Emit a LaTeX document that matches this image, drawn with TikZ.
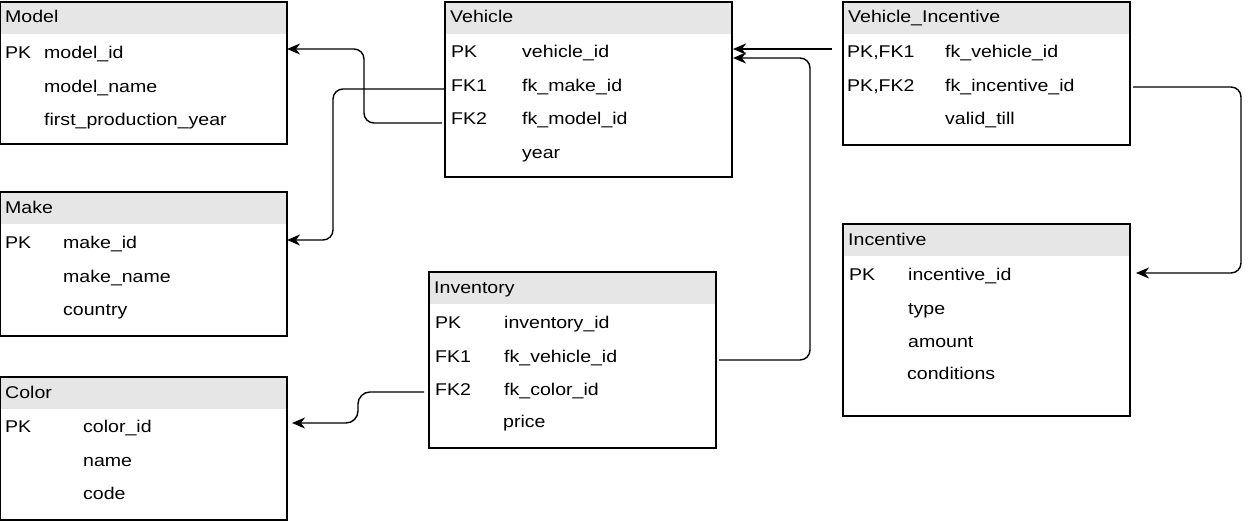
\documentclass[tikz,border=0pt]{standalone}
\usepackage{fontspec}
\setmainfont{Liberation Sans}[FakeStretch=1.15]
\usetikzlibrary{arrows.meta,calc}
\definecolor{headgray}{RGB}{230,230,230}
\newcommand\ertable[5]{%
  \node[head] (#1-head) at (#2,#3) {};
  \node[box, minimum height=#4pt] (#1) at (#2,#3) {};
  \node[txt] (#1-title) at ($(#1.north west)+(5,21)$) {#5};
}
\begin{document}
\begin{tikzpicture}[x=1pt,y=-1pt,
  box/.style={draw=black, line width=1.3pt, minimum width=287pt, anchor=north west, inner sep=0pt, outer sep=0pt},
  head/.style={fill=headgray, anchor=north west, minimum width=287pt, minimum height=32pt, inner sep=0pt, outer sep=0pt},
  txt/.style={anchor=base west, inner sep=0pt, font=\fontsize{17}{18}\selectfont},
  conn/.style={line width=1.4pt, rounded corners=10pt},
  tip/.style={-{Stealth[length=13pt,width=11pt,inset=4pt]}}]
\useasboundingbox (0,0) rectangle (1248,522);

% Tables
\ertable{model}{0}{2}{142}{Model}
\ertable{make}{0}{192}{144}{Make}
\ertable{color}{0}{377}{143}{Color}
\ertable{vehicle}{445}{2}{175}{Vehicle}
\ertable{inventory}{429}{272}{176}{Inventory}
\ertable{vi}{843}{2}{143}{Vehicle\_Incentive}
\ertable{incentive}{843}{224}{192}{Incentive}

% Model rows
\node[txt] (model-k1) at ($(model.north west)+(5,56)$) {PK};
\node[txt] (model-f1) at ($(model.north west)+(44,56)$) {model\_id};
\node[txt] (model-f2) at ($(model.north west)+(44,90)$) {model\_name};
\node[txt] (model-f3) at ($(model.north west)+(44,123)$) {first\_production\_year};

% Make rows
\node[txt] (make-k1) at ($(make.north west)+(5,56)$) {PK};
\node[txt] (make-f1) at ($(make.north west)+(63,56)$) {make\_id};
\node[txt] (make-f2) at ($(make.north west)+(63,90)$) {make\_name};
\node[txt] (make-f3) at ($(make.north west)+(63,123)$) {country};

% Color rows
\node[txt] (color-k1) at ($(color.north west)+(5,55)$) {PK};
\node[txt] (color-f1) at ($(color.north west)+(83,55)$) {color\_id};
\node[txt] (color-f2) at ($(color.north west)+(83,89)$) {name};
\node[txt] (color-f3) at ($(color.north west)+(83,122)$) {code};

% Vehicle rows
\node[txt] (vehicle-k1) at ($(vehicle.north west)+(6,55)$) {PK};
\node[txt] (vehicle-k2) at ($(vehicle.north west)+(6,89)$) {FK1};
\node[txt] (vehicle-k3) at ($(vehicle.north west)+(6,122)$) {FK2};
\node[txt] (vehicle-f1) at ($(vehicle.north west)+(77,55)$) {vehicle\_id};
\node[txt] (vehicle-f2) at ($(vehicle.north west)+(77,89)$) {fk\_make\_id};
\node[txt] (vehicle-f3) at ($(vehicle.north west)+(77,122)$) {fk\_model\_id};
\node[txt] (vehicle-f4) at ($(vehicle.north west)+(77,156)$) {year};

% Inventory rows
\node[txt] (inventory-k1) at ($(inventory.north west)+(6,56)$) {PK};
\node[txt] (inventory-k2) at ($(inventory.north west)+(6,90)$) {FK1};
\node[txt] (inventory-k3) at ($(inventory.north west)+(6,123)$) {FK2};
\node[txt] (inventory-f1) at ($(inventory.north west)+(75,56)$) {inventory\_id};
\node[txt] (inventory-f2) at ($(inventory.north west)+(75,90)$) {fk\_vehicle\_id};
\node[txt] (inventory-f3) at ($(inventory.north west)+(75,123)$) {fk\_color\_id};
\node[txt] (inventory-f4) at ($(inventory.north west)+(74,155)$) {price};

% Vehicle_Incentive rows
\node[txt] (vi-k1) at ($(vi.north west)+(4,55)$) {PK,FK1};
\node[txt] (vi-k2) at ($(vi.north west)+(4,89)$) {PK,FK2};
\node[txt] (vi-f1) at ($(vi.north west)+(102,55)$) {fk\_vehicle\_id};
\node[txt] (vi-f2) at ($(vi.north west)+(102,89)$) {fk\_incentive\_id};
\node[txt] (vi-f3) at ($(vi.north west)+(102,122)$) {valid\_till};

% Incentive rows
\node[txt] (incentive-k1) at ($(incentive.north west)+(6,56)$) {PK};
\node[txt] (incentive-f1) at ($(incentive.north west)+(65,56)$) {incentive\_id};
\node[txt] (incentive-f2) at ($(incentive.north west)+(65,90)$) {type};
\node[txt] (incentive-f3) at ($(incentive.north west)+(65,123)$) {amount};
\node[txt] (incentive-f4) at ($(incentive.north west)+(64,155)$) {conditions};

% Connector end points
\coordinate (vfk2-s) at ($(vehicle.north west)+(-3,121)$);
\coordinate (model-in) at ($(model.north east)+(0,47)$);
\coordinate (vfk1-s) at ($(vehicle.north west)+(0,87)$);
\coordinate (make-in) at ($(make.north east)+(0,48)$);
\coordinate (vi-s1) at ($(vi.north west)+(-11,47)$);
\coordinate (veh-in1) at ($(vehicle.north east)+(1,47)$);
\coordinate (inv-s1) at ($(inventory.north east)+(3,88)$);
\coordinate (veh-in2) at ($(vehicle.north east)+(1,56)$);
\coordinate (vi-s2) at ($(vi.north east)+(3,85)$);
\coordinate (inc-in) at ($(incentive.north east)+(6,49)$);
\coordinate (inv-s2) at ($(inventory.north west)+(-5,120)$);
\coordinate (color-in) at ($(color.north east)+(5,46)$);

% Connectors
\draw[conn,tip] (vfk2-s) -- (364,123) -- (364,49) -- (model-in);
\draw[conn,tip] (vfk1-s) -- (333,89) -- (333,240) -- (make-in);
\draw[line width=1.4pt,tip] (vi-s1) -- (veh-in1);
\draw[conn,tip] (inv-s1) -- (810,360) -- (810,58) -- (veh-in2);
\draw[conn,tip] (vi-s2) -- (1241,87) -- (1241,273) -- (inc-in);
\draw[conn,tip,rounded corners=12pt] (inv-s2) -- (358,392) -- (358,423) -- (color-in);
\end{tikzpicture}
\end{document}
